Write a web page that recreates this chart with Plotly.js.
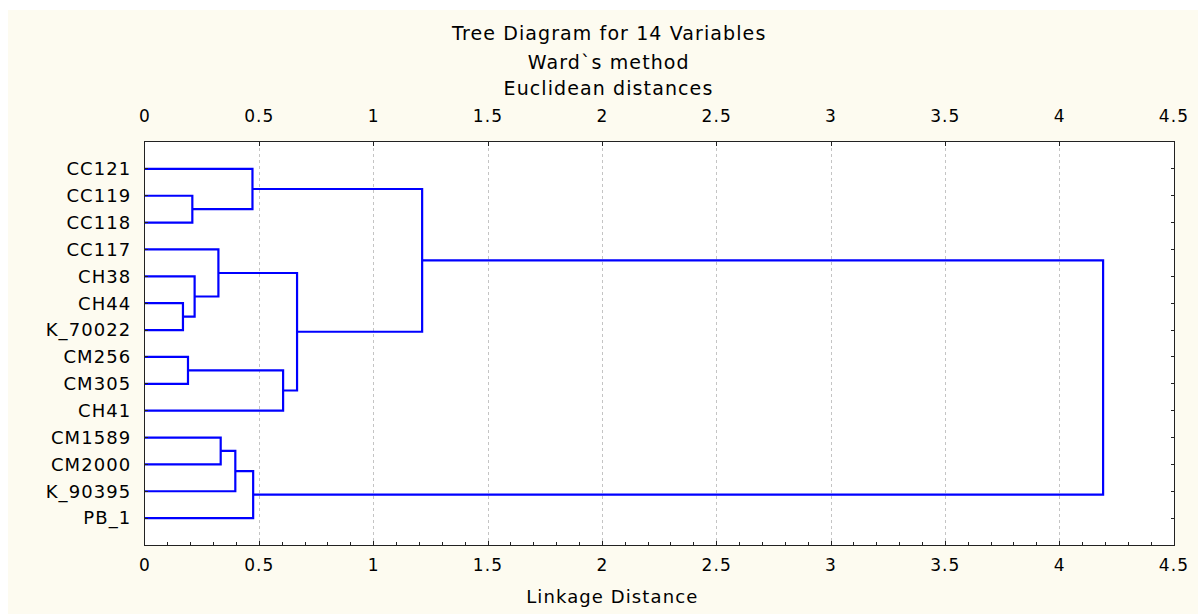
<!DOCTYPE html>
<html>
<head>
<meta charset="utf-8">
<script src="https://cdn.plot.ly/plotly-3.0.1.min.js"></script>
<style>
  html, body { margin: 0; padding: 0; background: #ffffff; }
  #chart { position: absolute; left: 8px; top: 10px; width: 1190px; height: 604px; }
  #chart svg text { letter-spacing: 1.1px; }
</style>
</head>
<body>
<div id="chart"></div>
<script>
// ---- Data ----
const leaves = ["CC121", "CC119", "CC118", "CC117", "CH38", "CH44", "K_70022",
                "CM256", "CM305", "CH41", "CM1589", "CM2000", "K_90395", "PB_1"];
// Each merge joins cluster A and cluster B (ids 0..13 = leaves, 14.. = merges in order)
const mergeA    = [5, 7, 1, 4, 3, 10, 19, 0, 20, 15, 18, 21, 25];
const mergeB    = [6, 8, 2, 14, 17, 11, 12, 16, 13, 9, 23, 24, 22];
const mergeDist = [0.166, 0.188, 0.207, 0.217, 0.321, 0.331, 0.395, 0.470, 0.473, 0.604, 0.665, 1.212, 4.19];
const xTicks = [0, 0.5, 1, 1.5, 2, 2.5, 3, 3.5, 4, 4.5];
const titleLines = ["Tree Diagram for 14 Variables", "Ward`s method", "Euclidean distances"];
const xTitle = "Linkage Distance";

// ---- Build dendrogram paths ----
const nLeaf = leaves.length;
const pos = [], hgt = [];
for (let i = 0; i < nLeaf; i++) { pos.push(i + 1); hgt.push(0); }
const lx = [], ly = [];
for (let k = 0; k < mergeA.length; k++) {
  const a = mergeA[k], b = mergeB[k], d = mergeDist[k];
  lx.push(hgt[a], d, d, hgt[b], null);
  ly.push(pos[a], pos[a], pos[b], pos[b], null);
  pos.push((pos[a] + pos[b]) / 2);
  hgt.push(d);
}
const leafPos = leaves.map((_, i) => i + 1);

const FONT = "DejaVu Sans, Liberation Sans, Arial, sans-serif";
const traces = [
  { x: lx, y: ly, type: "scatter", mode: "lines", xaxis: "x", yaxis: "y",
    line: { color: "#0000ff", width: 2.2 }, hoverinfo: "skip", showlegend: false },
  { x: [0, 4.5], y: [null, null], type: "scatter", mode: "lines", xaxis: "x2", yaxis: "y",
    hoverinfo: "skip", showlegend: false }
];

const annotations = [];
const titleY = [1.2717, 1.1985, 1.134];
titleLines.forEach((t, i) => annotations.push({
  text: t, xref: "paper", yref: "paper", x: 0.4505, y: titleY[i],
  xanchor: "center", yanchor: "middle", showarrow: false,
  font: { family: FONT, size: 19, color: "#000" }
}));
annotations.push({
  text: xTitle, xref: "paper", yref: "paper", x: 0.4545, y: -0.128,
  xanchor: "center", yanchor: "middle", showarrow: false,
  font: { family: FONT, size: 18, color: "#000" }
});

const axisCommon = {
  range: [0, 4.5], tickvals: xTicks, ticktext: xTicks.map(String),
  ticks: "inside", ticklen: 4, tickcolor: "#222", tickwidth: 1,
  showline: true, linecolor: "#222", linewidth: 1, zeroline: false,
  tickfont: { family: FONT, size: 17, color: "#000" }, fixedrange: true
};

const layout = {
  width: 1190, height: 604,
  margin: { l: 137, r: 24, t: 132, b: 69 },
  paper_bgcolor: "#fdfbf0", plot_bgcolor: "#ffffff",
  showlegend: false,
  xaxis: Object.assign({}, axisCommon, {
    side: "bottom", showgrid: true, gridcolor: "#c4c4c4", gridwidth: 1, griddash: "dot",
    ticklabelstandoff: 5,
    minor: { dtick: 0.1, tick0: 0, ticks: "inside", ticklen: 3, tickcolor: "#222", showgrid: false }
  }),
  xaxis2: Object.assign({}, axisCommon, {
    side: "top", overlaying: "x", matches: "x", showgrid: false, ticklabelstandoff: 12
  }),
  yaxis: {
    range: [15, 0], tickvals: leafPos, ticktext: leaves,
    ticks: "inside", ticklen: 3, tickcolor: "#222",
    showline: true, linecolor: "#222", linewidth: 1, mirror: "ticks",
    showgrid: false, zeroline: false, ticklabelstandoff: 9,
    tickfont: { family: FONT, size: 18, color: "#000" }, fixedrange: true
  },
  annotations: annotations
};

Plotly.newPlot("chart", traces, layout, { displayModeBar: false, staticPlot: true });
</script>
</body>
</html>
